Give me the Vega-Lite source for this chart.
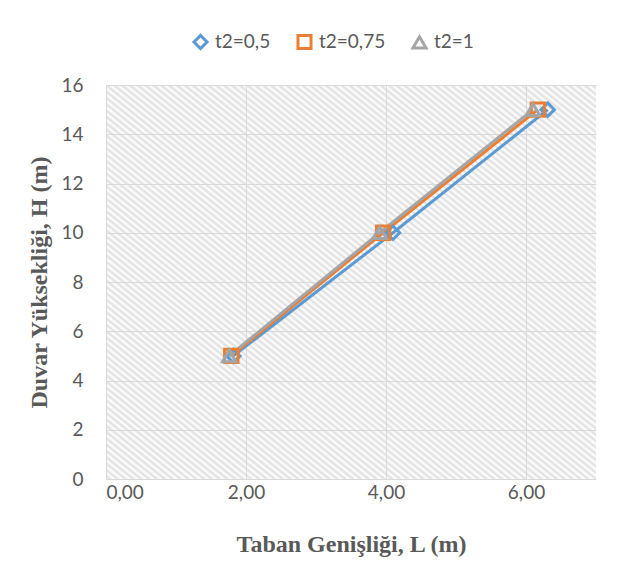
{
  "$schema": "https://vega.github.io/schema/vega-lite/v6.json",
  "width": 490,
  "height": 394,
  "autosize": {"type": "none"},
  "padding": {"left": 106, "top": 85, "right": 39, "bottom": 93},
  "background": "white",
  "view": {
    "stroke": null,
    "fill": {
      "gradient": "linear", "x1": 0, "y1": 1, "x2": 1, "y2": 0,
      "stops": [
        {"offset":0,"color":"#fff"},{"offset":0.004,"color":"#dfdfdf"},{"offset":0.008,"color":"#fff"},{"offset":0.012,"color":"#dfdfdf"},{"offset":0.016,"color":"#fff"},{"offset":0.02,"color":"#dfdfdf"},{"offset":0.024,"color":"#fff"},{"offset":0.028,"color":"#dfdfdf"},{"offset":0.032,"color":"#fff"},{"offset":0.036,"color":"#dfdfdf"},{"offset":0.04,"color":"#fff"},{"offset":0.044,"color":"#dfdfdf"},{"offset":0.048,"color":"#fff"},{"offset":0.052,"color":"#dfdfdf"},{"offset":0.056,"color":"#fff"},{"offset":0.06,"color":"#dfdfdf"},{"offset":0.064,"color":"#fff"},{"offset":0.068,"color":"#dfdfdf"},{"offset":0.072,"color":"#fff"},{"offset":0.076,"color":"#dfdfdf"},{"offset":0.08,"color":"#fff"},{"offset":0.084,"color":"#dfdfdf"},{"offset":0.088,"color":"#fff"},{"offset":0.092,"color":"#dfdfdf"},{"offset":0.096,"color":"#fff"},
        {"offset":0.1,"color":"#dfdfdf"},{"offset":0.104,"color":"#fff"},{"offset":0.108,"color":"#dfdfdf"},{"offset":0.112,"color":"#fff"},{"offset":0.116,"color":"#dfdfdf"},{"offset":0.12,"color":"#fff"},{"offset":0.124,"color":"#dfdfdf"},{"offset":0.128,"color":"#fff"},{"offset":0.132,"color":"#dfdfdf"},{"offset":0.136,"color":"#fff"},{"offset":0.14,"color":"#dfdfdf"},{"offset":0.144,"color":"#fff"},{"offset":0.148,"color":"#dfdfdf"},{"offset":0.152,"color":"#fff"},{"offset":0.156,"color":"#dfdfdf"},{"offset":0.16,"color":"#fff"},{"offset":0.164,"color":"#dfdfdf"},{"offset":0.168,"color":"#fff"},{"offset":0.172,"color":"#dfdfdf"},{"offset":0.176,"color":"#fff"},{"offset":0.18,"color":"#dfdfdf"},{"offset":0.184,"color":"#fff"},{"offset":0.188,"color":"#dfdfdf"},{"offset":0.192,"color":"#fff"},{"offset":0.196,"color":"#dfdfdf"},
        {"offset":0.2,"color":"#fff"},{"offset":0.204,"color":"#dfdfdf"},{"offset":0.208,"color":"#fff"},{"offset":0.212,"color":"#dfdfdf"},{"offset":0.216,"color":"#fff"},{"offset":0.22,"color":"#dfdfdf"},{"offset":0.224,"color":"#fff"},{"offset":0.228,"color":"#dfdfdf"},{"offset":0.232,"color":"#fff"},{"offset":0.236,"color":"#dfdfdf"},{"offset":0.24,"color":"#fff"},{"offset":0.244,"color":"#dfdfdf"},{"offset":0.248,"color":"#fff"},{"offset":0.252,"color":"#dfdfdf"},{"offset":0.256,"color":"#fff"},{"offset":0.26,"color":"#dfdfdf"},{"offset":0.264,"color":"#fff"},{"offset":0.268,"color":"#dfdfdf"},{"offset":0.272,"color":"#fff"},{"offset":0.276,"color":"#dfdfdf"},{"offset":0.28,"color":"#fff"},{"offset":0.284,"color":"#dfdfdf"},{"offset":0.288,"color":"#fff"},{"offset":0.292,"color":"#dfdfdf"},{"offset":0.296,"color":"#fff"},
        {"offset":0.3,"color":"#dfdfdf"},{"offset":0.304,"color":"#fff"},{"offset":0.308,"color":"#dfdfdf"},{"offset":0.312,"color":"#fff"},{"offset":0.316,"color":"#dfdfdf"},{"offset":0.32,"color":"#fff"},{"offset":0.324,"color":"#dfdfdf"},{"offset":0.328,"color":"#fff"},{"offset":0.332,"color":"#dfdfdf"},{"offset":0.336,"color":"#fff"},{"offset":0.34,"color":"#dfdfdf"},{"offset":0.344,"color":"#fff"},{"offset":0.348,"color":"#dfdfdf"},{"offset":0.352,"color":"#fff"},{"offset":0.356,"color":"#dfdfdf"},{"offset":0.36,"color":"#fff"},{"offset":0.364,"color":"#dfdfdf"},{"offset":0.368,"color":"#fff"},{"offset":0.372,"color":"#dfdfdf"},{"offset":0.376,"color":"#fff"},{"offset":0.38,"color":"#dfdfdf"},{"offset":0.384,"color":"#fff"},{"offset":0.388,"color":"#dfdfdf"},{"offset":0.392,"color":"#fff"},{"offset":0.396,"color":"#dfdfdf"},
        {"offset":0.4,"color":"#fff"},{"offset":0.404,"color":"#dfdfdf"},{"offset":0.408,"color":"#fff"},{"offset":0.412,"color":"#dfdfdf"},{"offset":0.416,"color":"#fff"},{"offset":0.42,"color":"#dfdfdf"},{"offset":0.424,"color":"#fff"},{"offset":0.428,"color":"#dfdfdf"},{"offset":0.432,"color":"#fff"},{"offset":0.436,"color":"#dfdfdf"},{"offset":0.44,"color":"#fff"},{"offset":0.444,"color":"#dfdfdf"},{"offset":0.448,"color":"#fff"},{"offset":0.452,"color":"#dfdfdf"},{"offset":0.456,"color":"#fff"},{"offset":0.46,"color":"#dfdfdf"},{"offset":0.464,"color":"#fff"},{"offset":0.468,"color":"#dfdfdf"},{"offset":0.472,"color":"#fff"},{"offset":0.476,"color":"#dfdfdf"},{"offset":0.48,"color":"#fff"},{"offset":0.484,"color":"#dfdfdf"},{"offset":0.488,"color":"#fff"},{"offset":0.492,"color":"#dfdfdf"},{"offset":0.496,"color":"#fff"},
        {"offset":0.5,"color":"#dfdfdf"},{"offset":0.504,"color":"#fff"},{"offset":0.508,"color":"#dfdfdf"},{"offset":0.512,"color":"#fff"},{"offset":0.516,"color":"#dfdfdf"},{"offset":0.52,"color":"#fff"},{"offset":0.524,"color":"#dfdfdf"},{"offset":0.528,"color":"#fff"},{"offset":0.532,"color":"#dfdfdf"},{"offset":0.536,"color":"#fff"},{"offset":0.54,"color":"#dfdfdf"},{"offset":0.544,"color":"#fff"},{"offset":0.548,"color":"#dfdfdf"},{"offset":0.552,"color":"#fff"},{"offset":0.556,"color":"#dfdfdf"},{"offset":0.56,"color":"#fff"},{"offset":0.564,"color":"#dfdfdf"},{"offset":0.568,"color":"#fff"},{"offset":0.572,"color":"#dfdfdf"},{"offset":0.576,"color":"#fff"},{"offset":0.58,"color":"#dfdfdf"},{"offset":0.584,"color":"#fff"},{"offset":0.588,"color":"#dfdfdf"},{"offset":0.592,"color":"#fff"},{"offset":0.596,"color":"#dfdfdf"},
        {"offset":0.6,"color":"#fff"},{"offset":0.604,"color":"#dfdfdf"},{"offset":0.608,"color":"#fff"},{"offset":0.612,"color":"#dfdfdf"},{"offset":0.616,"color":"#fff"},{"offset":0.62,"color":"#dfdfdf"},{"offset":0.624,"color":"#fff"},{"offset":0.628,"color":"#dfdfdf"},{"offset":0.632,"color":"#fff"},{"offset":0.636,"color":"#dfdfdf"},{"offset":0.64,"color":"#fff"},{"offset":0.644,"color":"#dfdfdf"},{"offset":0.648,"color":"#fff"},{"offset":0.652,"color":"#dfdfdf"},{"offset":0.656,"color":"#fff"},{"offset":0.66,"color":"#dfdfdf"},{"offset":0.664,"color":"#fff"},{"offset":0.668,"color":"#dfdfdf"},{"offset":0.672,"color":"#fff"},{"offset":0.676,"color":"#dfdfdf"},{"offset":0.68,"color":"#fff"},{"offset":0.684,"color":"#dfdfdf"},{"offset":0.688,"color":"#fff"},{"offset":0.692,"color":"#dfdfdf"},{"offset":0.696,"color":"#fff"},
        {"offset":0.7,"color":"#dfdfdf"},{"offset":0.704,"color":"#fff"},{"offset":0.708,"color":"#dfdfdf"},{"offset":0.712,"color":"#fff"},{"offset":0.716,"color":"#dfdfdf"},{"offset":0.72,"color":"#fff"},{"offset":0.724,"color":"#dfdfdf"},{"offset":0.728,"color":"#fff"},{"offset":0.732,"color":"#dfdfdf"},{"offset":0.736,"color":"#fff"},{"offset":0.74,"color":"#dfdfdf"},{"offset":0.744,"color":"#fff"},{"offset":0.748,"color":"#dfdfdf"},{"offset":0.752,"color":"#fff"},{"offset":0.756,"color":"#dfdfdf"},{"offset":0.76,"color":"#fff"},{"offset":0.764,"color":"#dfdfdf"},{"offset":0.768,"color":"#fff"},{"offset":0.772,"color":"#dfdfdf"},{"offset":0.776,"color":"#fff"},{"offset":0.78,"color":"#dfdfdf"},{"offset":0.784,"color":"#fff"},{"offset":0.788,"color":"#dfdfdf"},{"offset":0.792,"color":"#fff"},{"offset":0.796,"color":"#dfdfdf"},
        {"offset":0.8,"color":"#fff"},{"offset":0.804,"color":"#dfdfdf"},{"offset":0.808,"color":"#fff"},{"offset":0.812,"color":"#dfdfdf"},{"offset":0.816,"color":"#fff"},{"offset":0.82,"color":"#dfdfdf"},{"offset":0.824,"color":"#fff"},{"offset":0.828,"color":"#dfdfdf"},{"offset":0.832,"color":"#fff"},{"offset":0.836,"color":"#dfdfdf"},{"offset":0.84,"color":"#fff"},{"offset":0.844,"color":"#dfdfdf"},{"offset":0.848,"color":"#fff"},{"offset":0.852,"color":"#dfdfdf"},{"offset":0.856,"color":"#fff"},{"offset":0.86,"color":"#dfdfdf"},{"offset":0.864,"color":"#fff"},{"offset":0.868,"color":"#dfdfdf"},{"offset":0.872,"color":"#fff"},{"offset":0.876,"color":"#dfdfdf"},{"offset":0.88,"color":"#fff"},{"offset":0.884,"color":"#dfdfdf"},{"offset":0.888,"color":"#fff"},{"offset":0.892,"color":"#dfdfdf"},{"offset":0.896,"color":"#fff"},
        {"offset":0.9,"color":"#dfdfdf"},{"offset":0.904,"color":"#fff"},{"offset":0.908,"color":"#dfdfdf"},{"offset":0.912,"color":"#fff"},{"offset":0.916,"color":"#dfdfdf"},{"offset":0.92,"color":"#fff"},{"offset":0.924,"color":"#dfdfdf"},{"offset":0.928,"color":"#fff"},{"offset":0.932,"color":"#dfdfdf"},{"offset":0.936,"color":"#fff"},{"offset":0.94,"color":"#dfdfdf"},{"offset":0.944,"color":"#fff"},{"offset":0.948,"color":"#dfdfdf"},{"offset":0.952,"color":"#fff"},{"offset":0.956,"color":"#dfdfdf"},{"offset":0.96,"color":"#fff"},{"offset":0.964,"color":"#dfdfdf"},{"offset":0.968,"color":"#fff"},{"offset":0.972,"color":"#dfdfdf"},{"offset":0.976,"color":"#fff"},{"offset":0.98,"color":"#dfdfdf"},{"offset":0.984,"color":"#fff"},{"offset":0.988,"color":"#dfdfdf"},{"offset":0.992,"color":"#fff"},{"offset":0.996,"color":"#dfdfdf"},
        {"offset":1,"color":"#fff"}
      ]
    }
  },
  "config": {
    "font": "Lato",
    "legend": {
      "orient": "none",
      "legendX": 85,
      "legendY": -53,
      "direction": "horizontal",
      "labelFont": "Lato",
      "labelFontSize": 19,
      "labelColor": "#595959",
      "symbolSize": 170,
      "symbolStrokeWidth": 3,
      "columnPadding": 20,
      "labelOffset": 5,
      "padding": 0
    }
  },
  "datasets": {
    "series": [
      {"series": "t2=0,5", "L": 1.82, "H": 5},
      {"series": "t2=0,5", "L": 4.1, "H": 10},
      {"series": "t2=0,5", "L": 6.31, "H": 15},
      {"series": "t2=0,75", "L": 1.79, "H": 5},
      {"series": "t2=0,75", "L": 3.96, "H": 10},
      {"series": "t2=0,75", "L": 6.17, "H": 15},
      {"series": "t2=1", "L": 1.76, "H": 5},
      {"series": "t2=1", "L": 3.91, "H": 10},
      {"series": "t2=1", "L": 6.1, "H": 15}
    ]
  },
  "data": {"name": "series"},
  "encoding": {
    "x": {
      "field": "L", "type": "quantitative",
      "scale": {"domain": [0, 7], "nice": false},
      "axis": {
        "values": [0, 2, 4, 6],
        "labelExpr": "replace(format(datum.value, '.2f'), '.', ',')",
        "title": "Taban Genişliği, L (m)",
        "grid": true, "gridColor": "#d9d9d9", "gridWidth": 1,
        "domain": false, "ticks": false,
        "labelFont": "Lato", "labelFontSize": 19, "labelColor": "#595959", "labelPadding": 4,
        "titleFont": "Liberation Serif", "titleFontSize": 24, "titleFontWeight": "bold", "titleColor": "#595959", "titlePadding": 30
      }
    },
    "y": {
      "field": "H", "type": "quantitative",
      "scale": {"domain": [0, 16], "nice": false},
      "axis": {
        "values": [0, 2, 4, 6, 8, 10, 12, 14, 16],
        "title": "Duvar Yüksekliği, H (m)",
        "grid": true, "gridColor": "#d9d9d9", "gridWidth": 1,
        "domain": false, "ticks": false,
        "labelFont": "Lato", "labelFontSize": 19, "labelColor": "#595959", "labelPadding": 23,
        "titleFont": "Liberation Serif", "titleFontSize": 24, "titleFontWeight": "bold", "titleColor": "#595959", "titlePadding": 9
      }
    },
    "color": {
      "field": "series", "type": "nominal", "title": null,
      "scale": {"domain": ["t2=0,5", "t2=0,75", "t2=1"], "range": ["#5B9BD5", "#ED7D31", "#A5A5A5"]}
    }
  },
  "layer": [
    {
      "mark": {"type": "line", "strokeWidth": 3},
      "encoding": {
        "strokeWidth": {"condition": {"test": "datum.series === 't2=1'", "value": 4.5}, "value": 3}
      }
    },
    {
      "mark": {"type": "point", "filled": false, "strokeWidth": 3, "size": 180, "opacity": 1},
      "encoding": {
        "shape": {
          "field": "series", "type": "nominal", "title": null,
          "scale": {"domain": ["t2=0,5", "t2=0,75", "t2=1"], "range": ["diamond", "square", "triangle-up"]}
        }
      }
    }
  ]
}
